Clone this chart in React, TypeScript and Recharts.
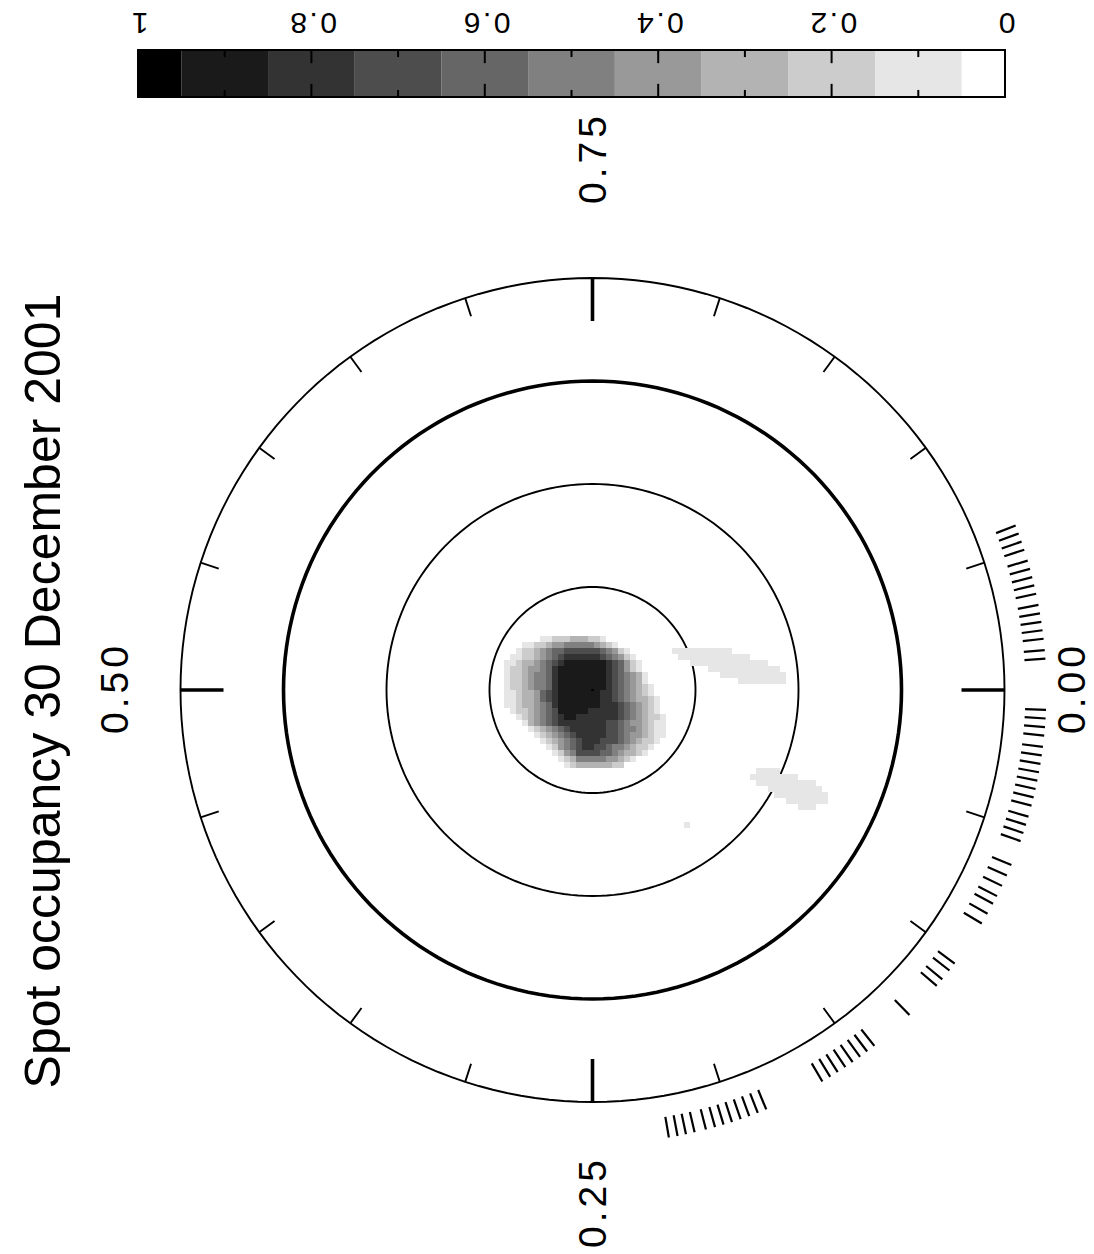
import React from 'react';
import {
  ComposedChart,
  Line,
  Scatter,
  XAxis,
  YAxis,
  ReferenceArea,
  ReferenceLine,
  ReferenceDot,
} from 'recharts';

// latitude circles (deg), equator drawn thick
const latitudeCircles = [60, 30, 0, -30];

// rotation phase ticks round the rim
const majorPhases = [0, 0.25, 0.5, 0.75];
const minorPhases = [0.05, 0.1, 0.15, 0.2, 0.3, 0.35, 0.4, 0.45, 0.55, 0.6, 0.65, 0.7, 0.8, 0.85, 0.9, 0.95];
const phaseLabels = ['0.00', '0.25', '0.50', '0.75'];

// phases of the observed spectra (hatches outside the rim)
const observedPhases = [
  0.941, 0.944, 0.947, 0.95, 0.954, 0.957, 0.96, 0.963, 0.966, 0.97, 0.973, 0.976, 0.979, 0.982, 0.986, 0.989,
  0.007, 0.01, 0.013, 0.016, 0.02, 0.023, 0.026, 0.029, 0.032, 0.035, 0.038, 0.041, 0.045, 0.048, 0.051, 0.054,
  0.063, 0.067, 0.071, 0.075, 0.078, 0.082, 0.086,
  0.103, 0.106, 0.11, 0.113,
  0.127,
  0.1434, 0.1466, 0.1497, 0.1529, 0.156, 0.1592, 0.1623, 0.1655,
  0.1875, 0.1907, 0.1939, 0.1971, 0.2003, 0.2034, 0.2065, 0.2098, 0.2139, 0.217, 0.22, 0.2231,
];

// grey scale: level 0 (white) .. 10 (black)
const greyLevels = [
  '#ffffff', '#e6e6e6', '#cccccc', '#b3b3b3', '#999999', '#808080',
  '#666666', '#4d4d4d', '#333333', '#1a1a1a', '#000000',
];
const levelEdges = [0, 0.05, 0.15, 0.25, 0.35, 0.45, 0.55, 0.65, 0.75, 0.85, 0.95, 1];
const colorbarLabels = [0, 0.2, 0.4, 0.6, 0.8, 1];
const colorbarMinor = [0.1, 0.3, 0.5, 0.7, 0.9];

// spot occupancy raster, one char per map pixel ('.' = 0, digit = grey level)
const spotRows = [
  '',
  '......' + '11222333221',
  '...' + '1122344555554321',
  '..' + '1223456677777765421',
  '.' + '112234567888888765421',
  '1123345678' + '9999999' + '876421',
  '122344568' + '99999999' + '876421',
  '122345568' + '99999999' + '8765431',
  '122345568' + '99999999' + '8765431',
  '122345568' + '99999999' + '87654321',
  '112334678' + '9999999' + '887654321',
  '112334678' + '9999999' + '8876543321',
  '112334568' + '9999999' + '8887654321',
  '.12234567' + '99999' + '88888' + '7654321',
  '..1234567' + '899' + '8888888' + '76543221',
  '...134567' + '8' + '8888888' + '7765443211',
  '....1234567' + '888888' + '7765543211',
  '.....' + '1234567' + '88888' + '7765443211',
  '......' + '1234567' + '888' + '7776543221',
  '.......' + '1245678' + '8' + '7765543221',
  '........' + '1245777766543321',
  '.........' + '1235555544321',
  '..........' + '1233333322',
];

// faint (level 1) features: [row, first col, last col]
const faintRuns = [
  [3, 28, 37], [4, 29, 40], [5, 31, 43], [6, 34, 45], [7, 36, 46], [8, 39, 46],
  [23, 42, 45], [24, 41, 48], [25, 42, 51], [26, 44, 52], [27, 45, 53], [28, 47, 53], [29, 49, 51],
  [32, 30, 30],
];

// ---- layout ----
const W = 1094;
const H = 1254;
const POLE_X = 592.5;
const POLE_Y = 690;
const PX = 412 / 120; // px per degree of co-latitude
const xDomain = [-POLE_X / PX, (W - POLE_X) / PX];
const yDomain = [-(H - POLE_Y) / PX, POLE_Y / PX];
const CELL = 6 / PX;
const GRID_X0 = (504 - POLE_X) / PX;
const GRID_Y0 = (POLE_Y - 630) / PX;
const RIM = 120;
const LABEL_R_PX = [479, 514, 478, 530];
const FONT = '"Liberation Sans", Arial, sans-serif';

const polar = (r: number, phase: number) => ({
  x: r * Math.cos(2 * Math.PI * phase),
  y: -r * Math.sin(2 * Math.PI * phase),
});

const circleData = (lat: number) => {
  const pts = [];
  for (let i = 0; i <= 360; i += 2) pts.push(polar(90 - lat, i / 360));
  return pts;
};

const tickData = (phases: number[], r0: number, r1: number) => {
  const pts: { x: number; y: number | null }[] = [];
  phases.forEach((p) => {
    const a = polar(r0, p);
    const b = polar(r1, p);
    pts.push(a, b, { x: b.x, y: null });
  });
  return pts;
};

const cells: { x: number; y: number; level: number }[] = [];
spotRows.forEach((row, r) => {
  row.split('').forEach((ch, c) => {
    if (ch === '.') return;
    cells.push({ x: GRID_X0 + (c + 0.5) * CELL, y: GRID_Y0 - (r + 0.5) * CELL, level: Number(ch) });
  });
});
faintRuns.forEach(([r, a, b]) => {
  for (let c = a; c <= b; c++) {
    cells.push({ x: GRID_X0 + (c + 0.5) * CELL, y: GRID_Y0 - (r + 0.5) * CELL, level: 1 });
  }
});

const labelPoints = phaseLabels.map((label, i) => ({ ...polar(LABEL_R_PX[i] / PX, majorPhases[i]), label }));

const MapCell = (p: any) => {
  const s = CELL * PX + 0.5;
  return (
    <rect x={p.cx - s / 2} y={p.cy - s / 2} width={s} height={s}
      fill={greyLevels[p.payload.level]} shapeRendering="crispEdges" />
  );
};

const PhaseLabel = (p: any) => (
  <text x={p.cx + 2} y={p.cy} transform={`rotate(-90 ${p.cx} ${p.cy})`} textAnchor="middle"
    dominantBaseline="central" fontFamily={FONT} fontSize={39} letterSpacing={4} fill="#000">
    {p.payload.label}
  </text>
);

const BarTick = (p: any) => (
  <text x={p.x - 1} y={23} transform={`rotate(180 ${p.x} 23)`} textAnchor="middle"
    dominantBaseline="central" fontFamily={FONT} fontSize={30} letterSpacing={2.5} fill="#000">
    {p.payload.value === 0 || p.payload.value === 1 ? String(p.payload.value) : p.payload.value.toFixed(1)}
  </text>
);

const bandData = greyLevels.map((c, i) => ({ v: (levelEdges[i] + levelEdges[i + 1]) / 2, y: 0.5 }));

export default function App() {
  return (
    <div style={{ position: 'absolute', left: 0, top: 0, width: W, height: H, background: '#fff' }}>
      <div style={{ position: 'absolute', left: 0, top: 0 }}>
        <ComposedChart width={W} height={110} data={bandData}
          margin={{ top: 20, right: W - 1005, bottom: 13, left: 138 }}>
          <XAxis dataKey="v" type="number" domain={[0, 1]} reversed orientation="top" height={30}
            allowDataOverflow ticks={colorbarLabels} interval={0} tick={<BarTick />}
            axisLine={false} tickLine={false} />
          <YAxis dataKey="y" type="number" domain={[0, 1]} allowDataOverflow hide />
          <Scatter data={bandData} dataKey="y" shape={() => <g />} isAnimationActive={false} />
          {greyLevels.map((c, i) => (
            <ReferenceArea key={c} x1={levelEdges[i]} x2={levelEdges[i + 1]} y1={0} y2={1}
              fill={c} fillOpacity={1} stroke="none" ifOverflow="visible" />
          ))}
          {colorbarLabels.slice(1, -1).map((v) => (
            <ReferenceLine key={'a' + v} segment={[{ x: v, y: 0 }, { x: v, y: 0.28 }]}
              stroke="#000" strokeWidth={2} ifOverflow="visible" />
          ))}
          {colorbarLabels.slice(1, -1).map((v) => (
            <ReferenceLine key={'b' + v} segment={[{ x: v, y: 1 }, { x: v, y: 0.72 }]}
              stroke="#000" strokeWidth={2} ifOverflow="visible" />
          ))}
          {colorbarMinor.map((v) => (
            <ReferenceLine key={'c' + v} segment={[{ x: v, y: 0 }, { x: v, y: 0.15 }]}
              stroke="#000" strokeWidth={2} ifOverflow="visible" />
          ))}
          {colorbarMinor.map((v) => (
            <ReferenceLine key={'d' + v} segment={[{ x: v, y: 1 }, { x: v, y: 0.85 }]}
              stroke="#000" strokeWidth={2} ifOverflow="visible" />
          ))}
          <ReferenceArea x1={0} x2={1} y1={0} y2={1} fill="none" stroke="#000" strokeWidth={2}
            ifOverflow="visible" />
        </ComposedChart>
      </div>

      <div style={{ position: 'absolute', left: 0, top: 0 }}>
        <ComposedChart width={W} height={H} margin={{ top: 0, right: 0, bottom: 0, left: 0 }}>
          <XAxis dataKey="x" type="number" domain={xDomain} allowDataOverflow hide />
          <YAxis dataKey="y" type="number" domain={yDomain} allowDataOverflow hide />
          <Scatter data={cells} shape={MapCell} isAnimationActive={false} />
          {latitudeCircles.map((lat) => (
            <Line key={lat} data={circleData(lat)} dataKey="y" stroke="#000"
              strokeWidth={lat === 0 ? 3.6 : 1.9} dot={false} activeDot={false} isAnimationActive={false} />
          ))}
          <Line data={tickData(minorPhases, RIM - 19 / PX, RIM)} dataKey="y" stroke="#000" strokeWidth={1.9}
            dot={false} activeDot={false} isAnimationActive={false} />
          <Line data={tickData(majorPhases, RIM - 43 / PX, RIM)} dataKey="y" stroke="#000" strokeWidth={3.6}
            dot={false} activeDot={false} isAnimationActive={false} />
          <Line data={tickData(observedPhases, 433 / PX, 454 / PX)} dataKey="y" stroke="#000" strokeWidth={2.2}
            dot={false} activeDot={false} isAnimationActive={false} />
          <Scatter data={labelPoints} shape={PhaseLabel} isAnimationActive={false} />
          <ReferenceDot x={0} y={0} r={1.3} fill="#000" stroke="none" />
        </ComposedChart>
      </div>

      <svg width={W} height={H} style={{ position: 'absolute', left: 0, top: 0, pointerEvents: 'none' }}>
        <text x={60} y={691} transform="rotate(-90 60 691)" textAnchor="middle"
          fontFamily={FONT} fontSize={50} fill="#000">
          Spot occupancy 30 December 2001
        </text>
      </svg>
    </div>
  );
}
